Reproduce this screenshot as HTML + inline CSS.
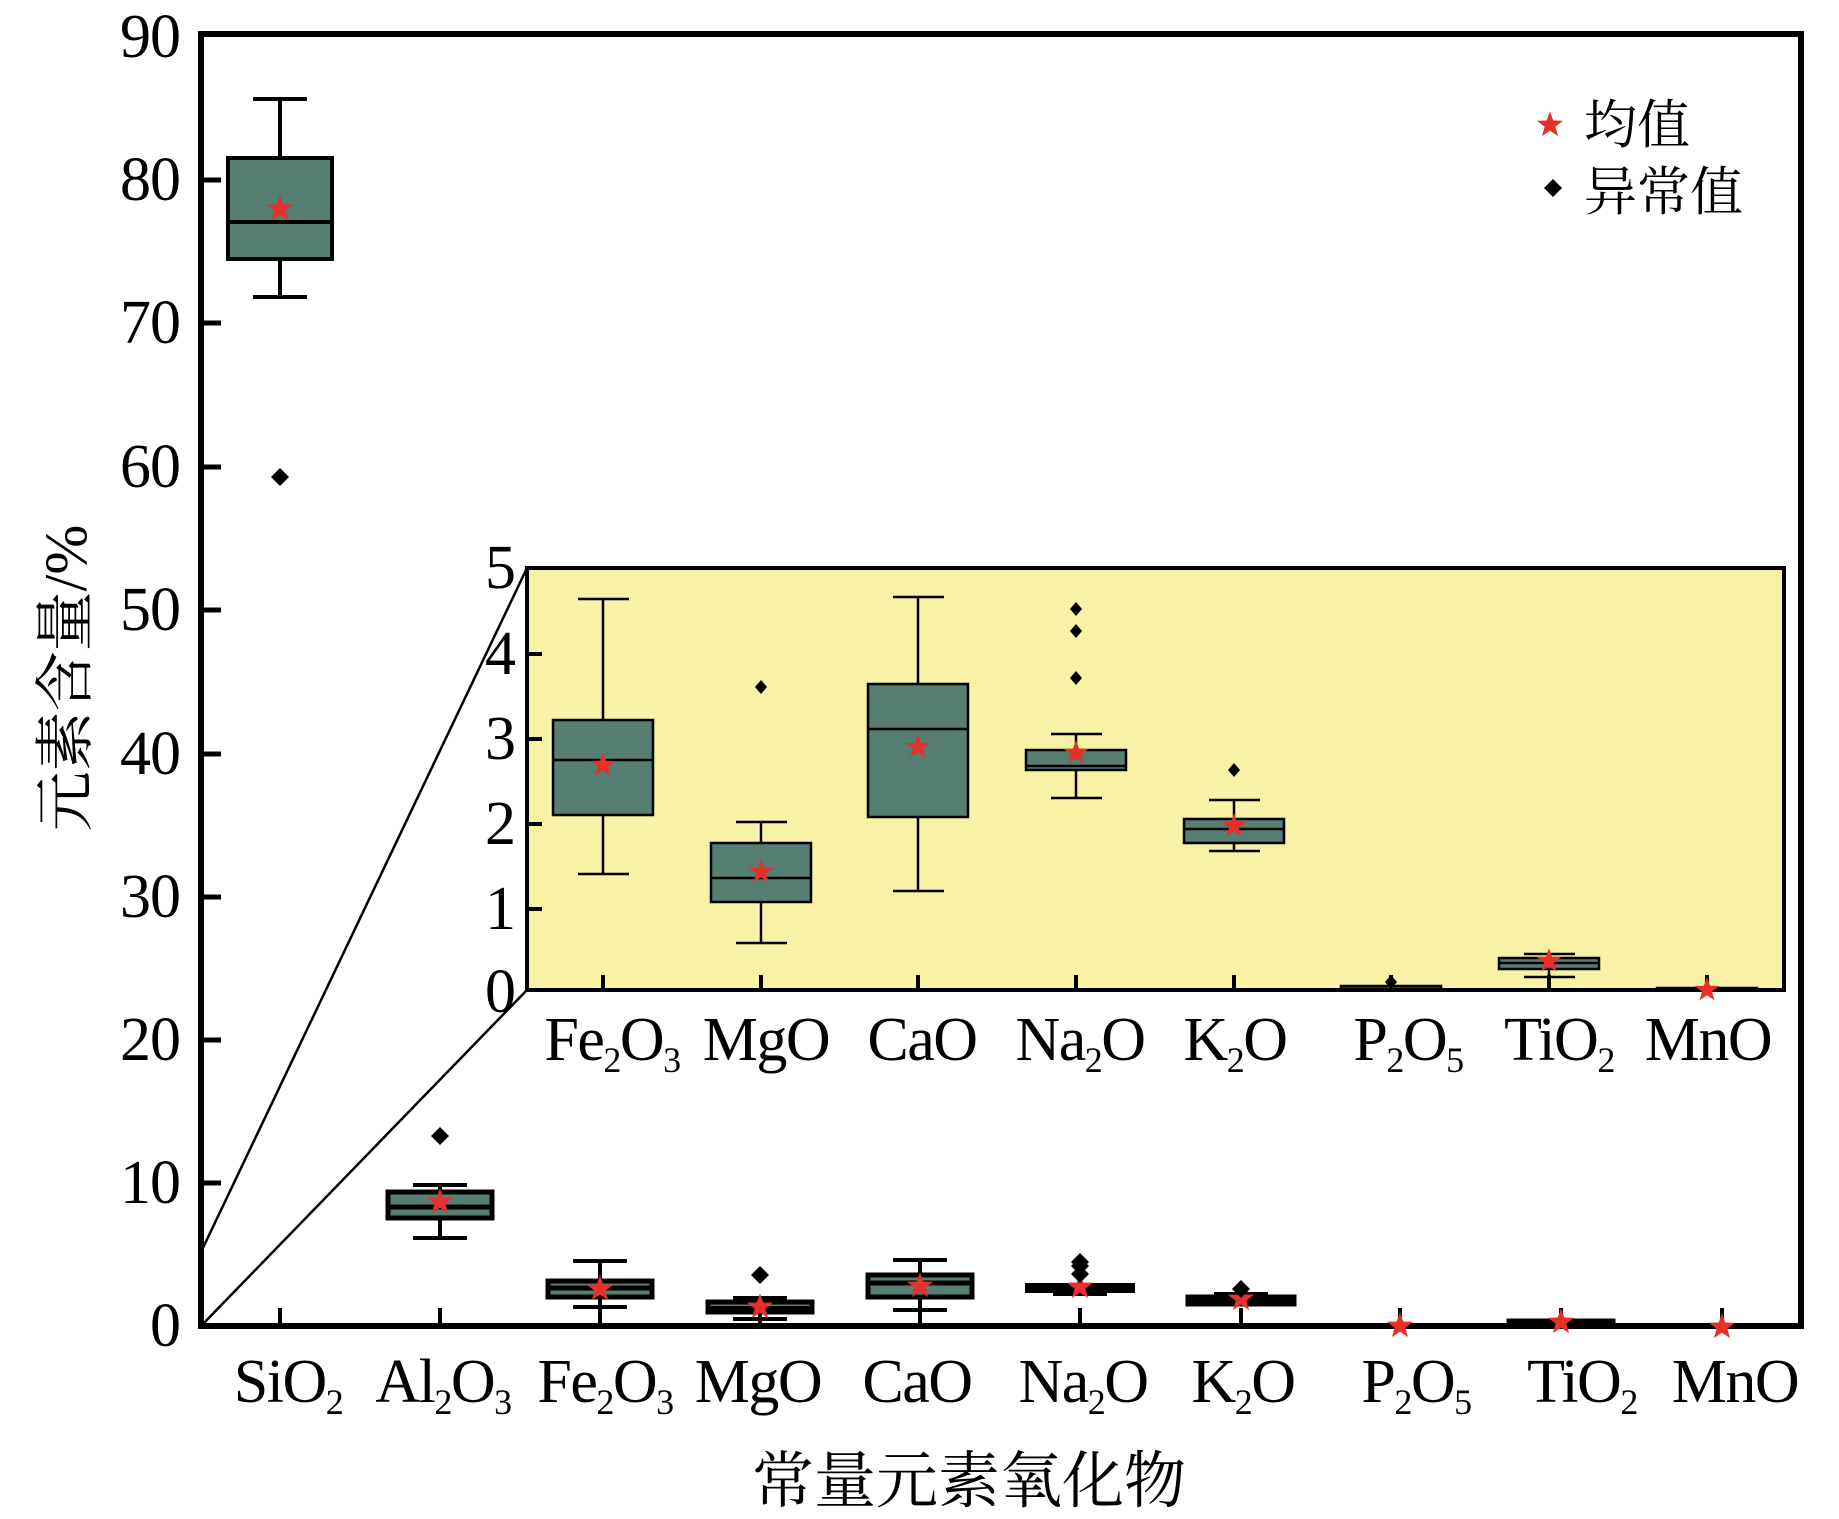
<!DOCTYPE html>
<html><head><meta charset="utf-8">
<style>
html,body{margin:0;padding:0;background:#fff;}
svg{display:block;}
text{font-family:"Liberation Serif","Noto Serif CJK SC",serif;fill:#000;}
</style></head>
<body>
<svg width="1839" height="1519" viewBox="0 0 1839 1519" xmlns="http://www.w3.org/2000/svg">
<defs>
<symbol id="st" viewBox="-12 -12 24 24" overflow="visible"><polygon fill="#e8302a" points="0,-11 2.65,-3.64 10.46,-3.4 4.28,1.39 6.47,8.9 0,4.5 -6.47,8.9 -4.28,1.39 -10.46,-3.4 -2.65,-3.64"/></symbol>
<symbol id="dm" viewBox="-12 -12 24 24" overflow="visible"><polygon fill="#000" points="0,-9 9,0 0,9 -9,0"/></symbol>
<symbol id="dms" viewBox="-12 -12 24 24" overflow="visible"><polygon fill="#000" points="0,-7 6,0 0,7 -6,0"/></symbol>
</defs>

<rect x="201" y="34" width="1600" height="1292" fill="none" stroke="#000" stroke-width="6"/>

<line x1="201" y1="1252" x2="527" y2="568" stroke="#000" stroke-width="2.5"/>
<line x1="201" y1="1326" x2="527" y2="990" stroke="#000" stroke-width="2.5"/>

<g stroke="#000" stroke-width="5">
<line x1="201" y1="180" x2="221" y2="180"/><line x1="201" y1="323" x2="221" y2="323"/>
<line x1="201" y1="467" x2="221" y2="467"/><line x1="201" y1="610" x2="221" y2="610"/>
<line x1="201" y1="754" x2="221" y2="754"/><line x1="201" y1="897" x2="221" y2="897"/>
<line x1="201" y1="1040" x2="221" y2="1040"/><line x1="201" y1="1183" x2="221" y2="1183"/>
</g>
<g font-size="62" text-anchor="end" letter-spacing="-1">
<text x="180" y="57">90</text><text x="180" y="200">80</text><text x="180" y="343">70</text>
<text x="180" y="487">60</text><text x="180" y="630">50</text><text x="180" y="774">40</text>
<text x="180" y="917">30</text><text x="180" y="1060">20</text><text x="180" y="1203">10</text>
<text x="180" y="1346">0</text>
</g>
<g stroke="#000" stroke-width="4">
<line x1="280" y1="1326" x2="280" y2="1308"/><line x1="440" y1="1326" x2="440" y2="1308"/>
<line x1="600" y1="1326" x2="600" y2="1308"/><line x1="760" y1="1326" x2="760" y2="1308"/>
<line x1="920" y1="1326" x2="920" y2="1308"/><line x1="1080" y1="1326" x2="1080" y2="1308"/>
<line x1="1241" y1="1326" x2="1241" y2="1308"/><line x1="1400" y1="1326" x2="1400" y2="1308"/>
<line x1="1561" y1="1326" x2="1561" y2="1308"/><line x1="1722" y1="1326" x2="1722" y2="1308"/>
</g>

<g stroke="#000" stroke-width="4" fill="#567e72">
<line x1="280" y1="99" x2="280" y2="158"/><line x1="280" y1="259" x2="280" y2="297"/>
<line x1="253" y1="99" x2="307" y2="99"/><line x1="253" y1="297" x2="307" y2="297"/>
<rect x="228" y="158" width="104" height="101"/><line x1="228" y1="222" x2="332" y2="222"/>
<line x1="440" y1="1185" x2="440" y2="1192"/><line x1="440" y1="1218" x2="440" y2="1238"/>
<line x1="413" y1="1185" x2="467" y2="1185"/><line x1="413" y1="1238" x2="467" y2="1238"/>
<rect x="388" y="1192" width="104" height="26" stroke-width="5"/><line x1="388" y1="1207" x2="492" y2="1207" stroke-width="5"/>
<line x1="600" y1="1261" x2="600" y2="1281"/><line x1="600" y1="1297" x2="600" y2="1307"/>
<line x1="573" y1="1261" x2="627" y2="1261"/><line x1="573" y1="1307" x2="627" y2="1307"/>
<rect x="548" y="1281" width="104" height="16" stroke-width="5"/><line x1="548" y1="1288" x2="652" y2="1288" stroke-width="5"/>
<line x1="760" y1="1298" x2="760" y2="1302"/><line x1="760" y1="1312" x2="760" y2="1319"/>
<line x1="733" y1="1298" x2="787" y2="1298"/><line x1="733" y1="1319" x2="787" y2="1319"/>
<rect x="708" y="1302" width="104" height="10" stroke-width="5"/><line x1="708" y1="1308" x2="812" y2="1308"/>
<line x1="920" y1="1260" x2="920" y2="1275"/><line x1="920" y1="1297" x2="920" y2="1310"/>
<line x1="893" y1="1260" x2="947" y2="1260"/><line x1="893" y1="1310" x2="947" y2="1310"/>
<rect x="868" y="1275" width="104" height="22" stroke-width="5"/><line x1="868" y1="1283" x2="972" y2="1283" stroke-width="5"/>
<line x1="1080" y1="1283" x2="1080" y2="1294"/>
<line x1="1053" y1="1294" x2="1107" y2="1294"/>
<rect x="1028" y="1286" width="104" height="4" stroke-width="6"/>
<rect x="1189" y="1298" width="104" height="5" stroke-width="7"/>
<line x1="1214" y1="1294" x2="1268" y2="1294"/>
<rect x="1509" y="1321" width="104" height="2" stroke-width="5"/>
<line x1="1350" y1="1324" x2="1450" y2="1324" stroke-width="2"/>
</g>
<use href="#st" x="265" y="194" width="30" height="30"/>
<use href="#st" x="425" y="1187" width="30" height="30"/>
<use href="#st" x="585" y="1274" width="30" height="30"/>
<use href="#st" x="745" y="1292" width="30" height="30"/>
<use href="#st" x="905" y="1271" width="30" height="30"/>
<use href="#st" x="1065" y="1272" width="30" height="30"/>
<use href="#st" x="1226" y="1284" width="30" height="30"/>
<use href="#st" x="1385" y="1311" width="30" height="30"/>
<use href="#st" x="1546" y="1307" width="30" height="30"/>
<use href="#st" x="1707" y="1312" width="30" height="30"/>
<use href="#dm" x="268" y="465" width="24" height="24"/>
<use href="#dm" x="428" y="1124" width="24" height="24"/>
<use href="#dm" x="748" y="1263" width="24" height="24"/>
<use href="#dm" x="1068" y="1250" width="24" height="24"/>
<use href="#dm" x="1068" y="1254" width="24" height="24"/>
<use href="#dm" x="1068" y="1262" width="24" height="24"/>
<use href="#dm" x="1229" y="1277" width="24" height="24"/>

<g font-size="62" text-anchor="middle" letter-spacing="-1.5">
<text x="288" y="1402">SiO<tspan font-size="36" dy="12">2</tspan></text>
<text x="443" y="1402">Al<tspan font-size="36" dy="12">2</tspan><tspan dy="-12">O</tspan><tspan font-size="36" dy="12">3</tspan></text>
<text x="605" y="1402">Fe<tspan font-size="36" dy="12">2</tspan><tspan dy="-12">O</tspan><tspan font-size="36" dy="12">3</tspan></text>
<text x="758" y="1402">MgO</text>
<text x="917" y="1402">CaO</text>
<text x="1083" y="1402">Na<tspan font-size="36" dy="12">2</tspan><tspan dy="-12">O</tspan></text>
<text x="1243" y="1402">K<tspan font-size="36" dy="12">2</tspan><tspan dy="-12">O</tspan></text>
<text x="1416" y="1402">P<tspan font-size="36" dy="12">2</tspan><tspan dy="-12">O</tspan><tspan font-size="36" dy="12">5</tspan></text>
<text x="1582" y="1402">TiO<tspan font-size="36" dy="12">2</tspan></text>
<text x="1735" y="1402">MnO</text>
</g>

<text x="969" y="1502" font-size="62" text-anchor="middle">常量元素氧化物</text>
<text transform="translate(86,678) rotate(-90)" font-size="60" text-anchor="middle">元素含量/%</text>

<use href="#st" x="1535" y="110" width="30" height="30"/>
<use href="#dm" x="1541" y="176" width="24" height="24"/>
<text x="1584" y="143" font-size="53">均值</text>
<text x="1584" y="210" font-size="53">异常值</text>

<rect x="527" y="568" width="1257" height="422" fill="#f7f2a6" stroke="#000" stroke-width="4"/>
<g stroke="#000" stroke-width="4">
<line x1="527" y1="654" x2="542" y2="654"/><line x1="527" y1="739" x2="542" y2="739"/>
<line x1="527" y1="824" x2="542" y2="824"/><line x1="527" y1="909" x2="542" y2="909"/>
<line x1="603" y1="990" x2="603" y2="975"/><line x1="761" y1="990" x2="761" y2="975"/>
<line x1="918" y1="990" x2="918" y2="975"/><line x1="1076" y1="990" x2="1076" y2="975"/>
<line x1="1234" y1="990" x2="1234" y2="975"/><line x1="1391" y1="990" x2="1391" y2="975"/>
<line x1="1549" y1="990" x2="1549" y2="975"/><line x1="1707" y1="990" x2="1707" y2="975"/>
</g>
<g font-size="62" text-anchor="end">
<text x="516" y="588">5</text><text x="516" y="674">4</text><text x="516" y="759">3</text>
<text x="516" y="844">2</text><text x="516" y="929">1</text><text x="516" y="1012">0</text>
</g>
<g stroke="#000" stroke-width="2.5" fill="#567e72">
<line x1="603" y1="599" x2="603" y2="720"/><line x1="603" y1="815" x2="603" y2="874"/>
<line x1="578" y1="599" x2="629" y2="599"/><line x1="578" y1="874" x2="629" y2="874"/>
<rect x="553" y="720" width="100" height="95"/><line x1="553" y1="760" x2="653" y2="760"/>
<line x1="761" y1="822" x2="761" y2="843"/><line x1="761" y1="902" x2="761" y2="943"/>
<line x1="736" y1="822" x2="787" y2="822"/><line x1="736" y1="943" x2="787" y2="943"/>
<rect x="711" y="843" width="100" height="59"/><line x1="711" y1="878" x2="811" y2="878"/>
<line x1="918" y1="597" x2="918" y2="684"/><line x1="918" y1="817" x2="918" y2="891"/>
<line x1="893" y1="597" x2="944" y2="597"/><line x1="893" y1="891" x2="944" y2="891"/>
<rect x="868" y="684" width="100" height="133"/><line x1="868" y1="729" x2="968" y2="729"/>
<line x1="1076" y1="734" x2="1076" y2="750"/><line x1="1076" y1="770" x2="1076" y2="798"/>
<line x1="1051" y1="734" x2="1102" y2="734"/><line x1="1051" y1="798" x2="1102" y2="798"/>
<rect x="1026" y="750" width="100" height="20"/><line x1="1026" y1="766" x2="1126" y2="766"/>
<line x1="1234" y1="800" x2="1234" y2="819"/><line x1="1234" y1="843" x2="1234" y2="851"/>
<line x1="1209" y1="800" x2="1260" y2="800"/><line x1="1209" y1="851" x2="1260" y2="851"/>
<rect x="1184" y="819" width="100" height="24"/><line x1="1184" y1="829" x2="1284" y2="829"/>
<rect x="1341" y="986" width="100" height="3"/>
<line x1="1524" y1="954" x2="1575" y2="954"/><line x1="1524" y1="977" x2="1575" y2="977"/>
<line x1="1549" y1="969" x2="1549" y2="977"/>
<rect x="1499" y="958" width="100" height="11"/><line x1="1499" y1="963" x2="1599" y2="963"/>
<rect x="1657" y="988" width="100" height="2"/>
</g>
<use href="#st" x="589" y="751" width="28" height="28"/>
<use href="#st" x="747" y="858" width="28" height="28"/>
<use href="#st" x="904" y="733" width="28" height="28"/>
<use href="#st" x="1062" y="739" width="28" height="28"/>
<use href="#st" x="1220" y="812" width="28" height="28"/>
<use href="#st" x="1535" y="947" width="28" height="28"/>
<use href="#st" x="1693" y="976" width="28" height="28"/>
<use href="#dms" x="749" y="675" width="24" height="24"/>
<use href="#dms" x="1064" y="597" width="24" height="24"/>
<use href="#dms" x="1064" y="619" width="24" height="24"/>
<use href="#dms" x="1064" y="666" width="24" height="24"/>
<use href="#dms" x="1222" y="758" width="24" height="24"/>
<use href="#dms" x="1379" y="970" width="24" height="24"/>
<g font-size="62" text-anchor="middle" letter-spacing="-1.5">
<text x="612" y="1060">Fe<tspan font-size="36" dy="12">2</tspan><tspan dy="-12">O</tspan><tspan font-size="36" dy="12">3</tspan></text>
<text x="766" y="1060">MgO</text>
<text x="922" y="1060">CaO</text>
<text x="1080" y="1060">Na<tspan font-size="36" dy="12">2</tspan><tspan dy="-12">O</tspan></text>
<text x="1235" y="1060">K<tspan font-size="36" dy="12">2</tspan><tspan dy="-12">O</tspan></text>
<text x="1408" y="1060">P<tspan font-size="36" dy="12">2</tspan><tspan dy="-12">O</tspan><tspan font-size="36" dy="12">5</tspan></text>
<text x="1559" y="1060">TiO<tspan font-size="36" dy="12">2</tspan></text>
<text x="1708" y="1060">MnO</text>
</g>
</svg>
</body></html>
